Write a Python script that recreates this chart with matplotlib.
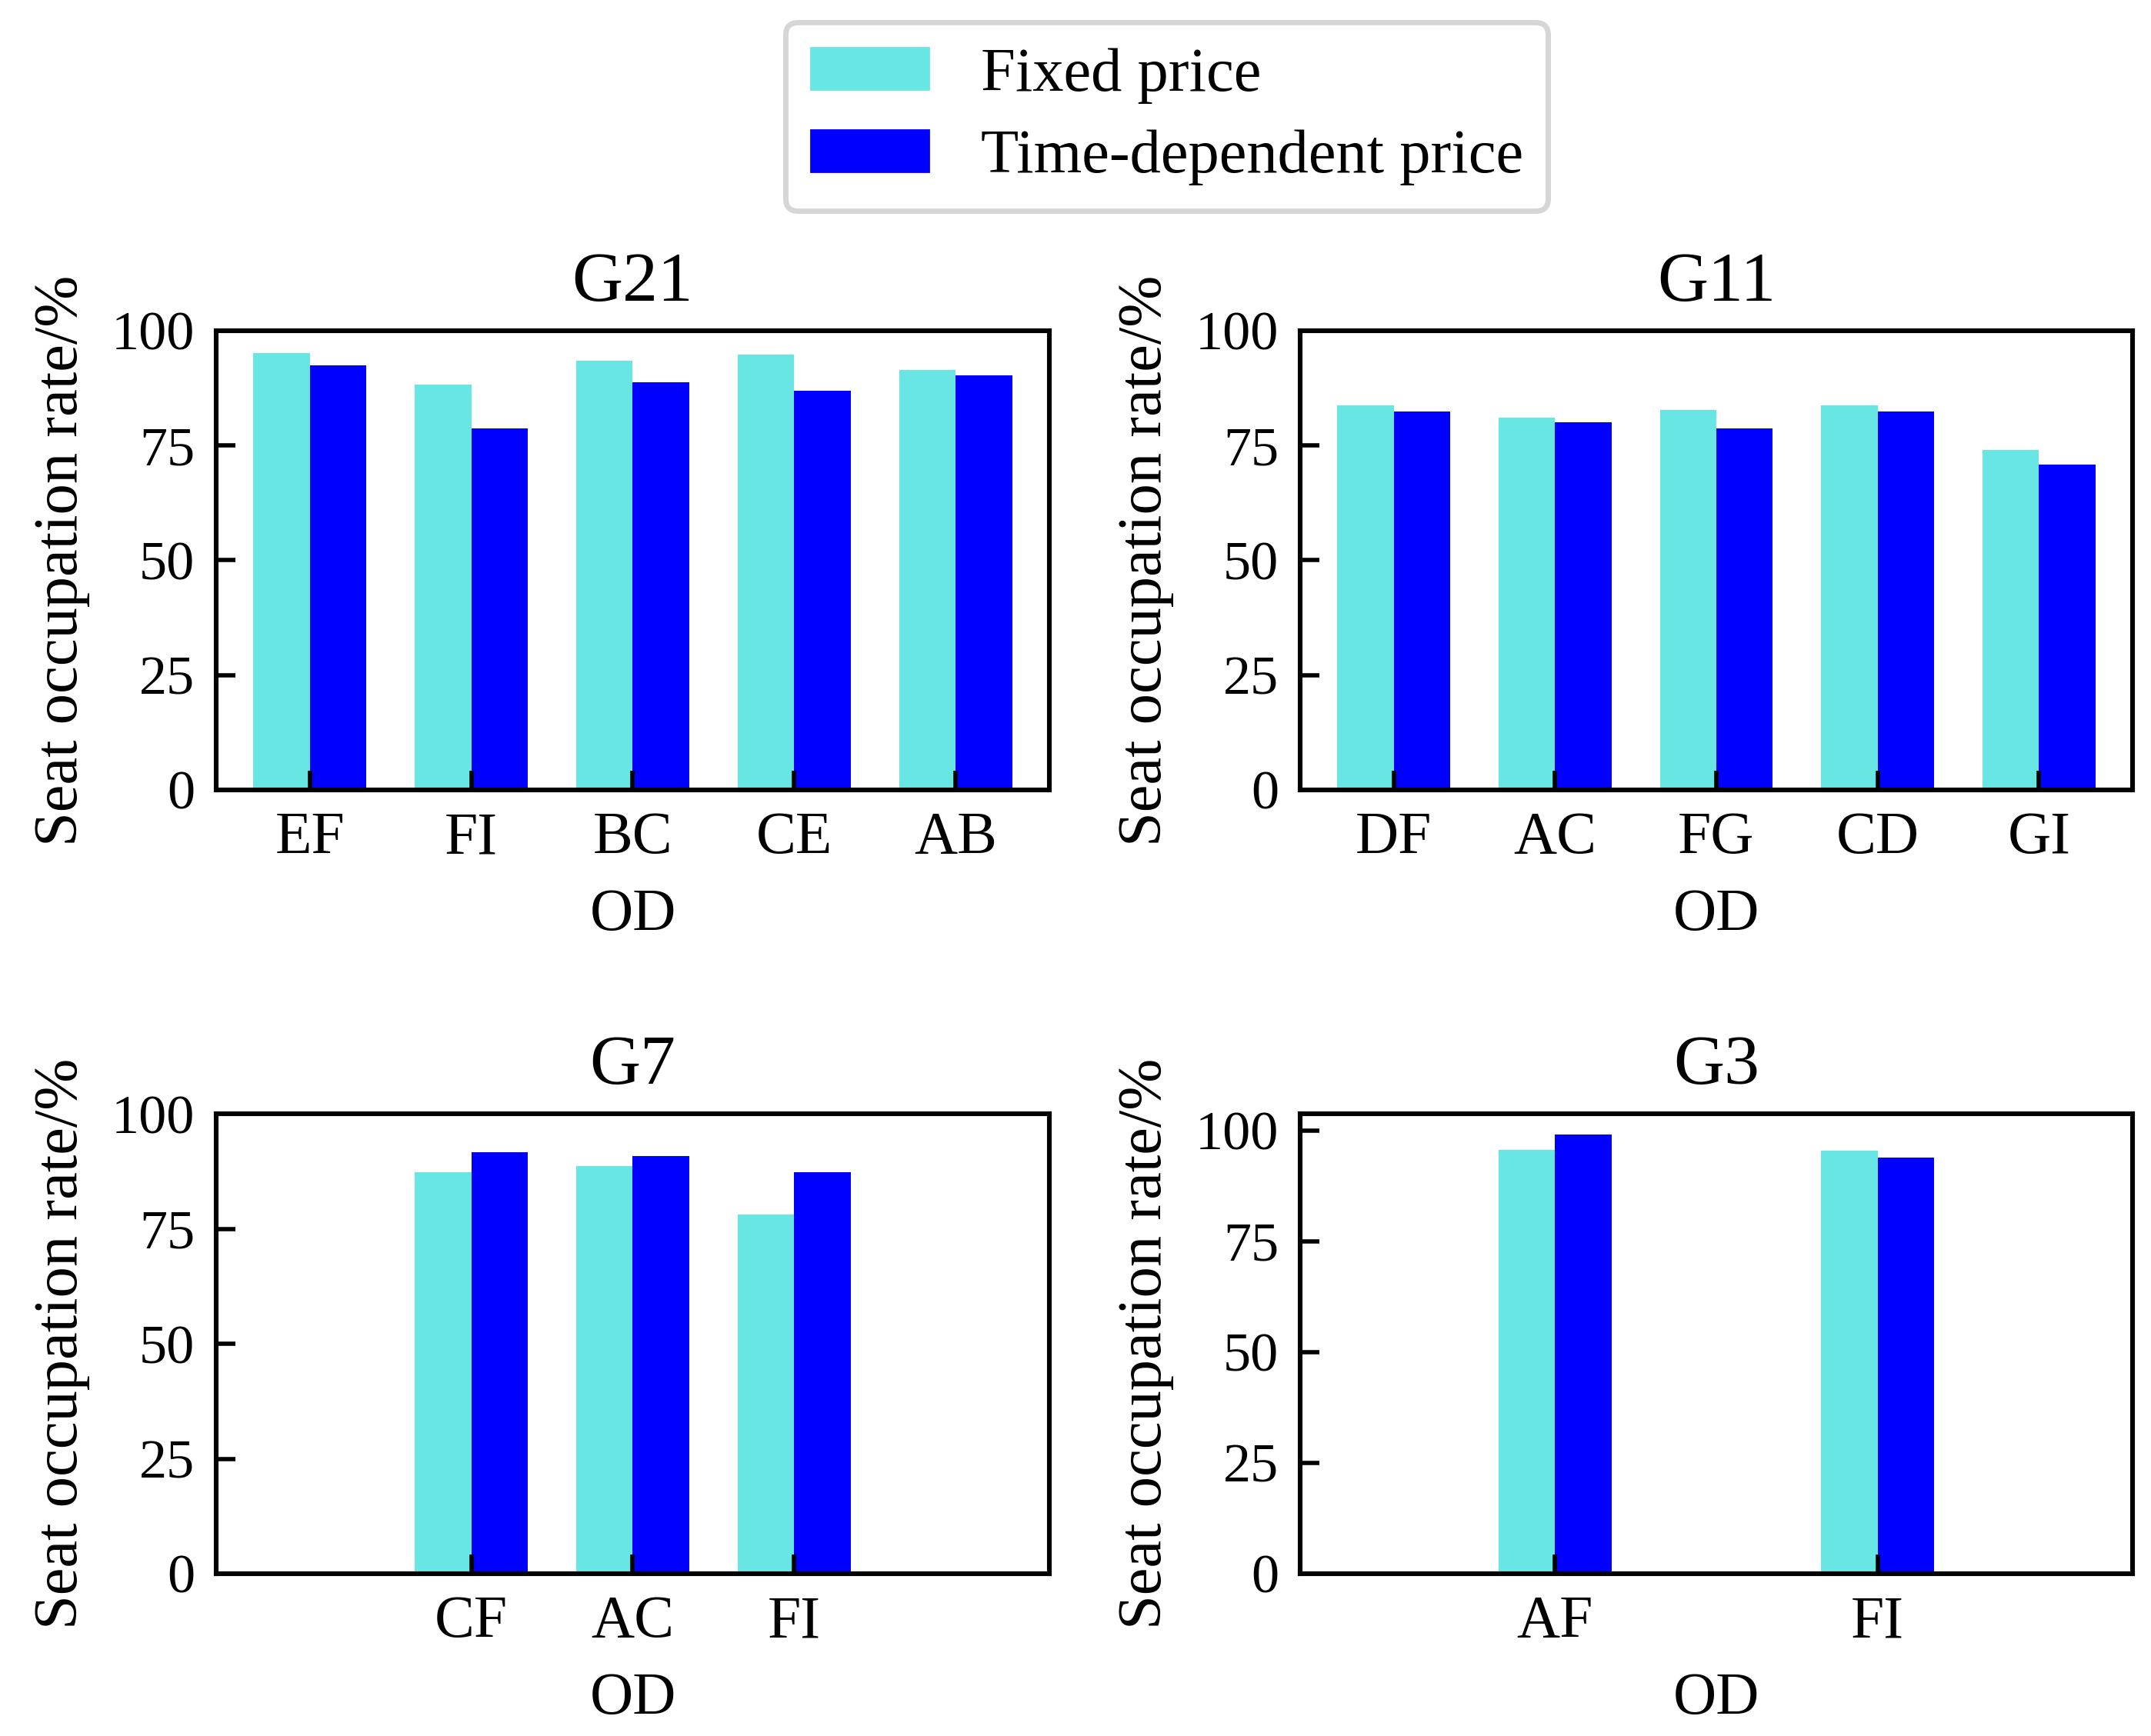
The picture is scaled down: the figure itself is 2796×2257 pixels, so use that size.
import matplotlib
matplotlib.use("Agg")
import matplotlib.pyplot as plt
from matplotlib.patches import Patch

plt.rcParams['font.family'] = ['Liberation Serif', 'DejaVu Serif']

couleur_fixe = '#68e6e4'
couleur_temps = '#0000ff'
noms_series = ["Fixed price", "Time-dependent price"]

# G21
od_g21 = ["EF", "FI", "BC", "CE", "AB"]
fixe_g21 = [95.2, 88.3, 93.4, 94.8, 91.5]
temps_g21 = [92.4, 78.7, 88.8, 87.0, 90.2]

# G11
od_g11 = ["DF", "AC", "FG", "CD", "GI"]
fixe_g11 = [83.7, 81.0, 82.8, 83.7, 74.0]
temps_g11 = [82.4, 80.1, 78.7, 82.4, 70.9]

# G7
od_g7 = ["CF", "AC", "FI"]
fixe_g7 = [87.3, 88.6, 78.1]
temps_g7 = [91.7, 90.8, 87.3]

# G3
od_g3 = ["AF", "FI"]
fixe_g3 = [95.6, 95.4]
temps_g3 = [99.1, 93.9]


def tracer(ax, titre, positions, od, fixe, temps, ymax):
    largeur = 0.35
    ax.bar([p - largeur / 2 for p in positions], fixe, largeur, color=couleur_fixe)
    ax.bar([p + largeur / 2 for p in positions], temps, largeur, color=couleur_temps)
    ax.set_xlim(-0.58, 4.58)
    ax.set_ylim(0, ymax)
    ax.set_xticks(positions)
    ax.set_xticklabels(od)
    ax.set_yticks([0, 25, 50, 75, 100])
    ax.tick_params(direction='in', length=9, width=2.0, pad=10)
    ax.tick_params(axis='x', labelsize=28)
    ax.tick_params(axis='y', labelsize=26)
    for s in ax.spines.values():
        s.set_linewidth(2.2)
    ax.set_title(titre, fontsize=33, pad=14)
    ax.set_xlabel("OD", fontsize=28, labelpad=10)
    ax.set_ylabel("Seat occupation rate/%", fontsize=29, labelpad=10)


def main():
    fig = plt.figure(figsize=(13.98, 11.285), dpi=200)
    ax1 = fig.add_axes([0.1005, 0.545, 0.3873, 0.2645])
    ax2 = fig.add_axes([0.6044, 0.545, 0.387, 0.2645])
    ax3 = fig.add_axes([0.1005, 0.0935, 0.3873, 0.2649])
    ax4 = fig.add_axes([0.6044, 0.0935, 0.387, 0.2649])

    tracer(ax1, "G21", [0, 1, 2, 3, 4], od_g21, fixe_g21, temps_g21, 100)
    tracer(ax2, "G11", [0, 1, 2, 3, 4], od_g11, fixe_g11, temps_g11, 100)
    tracer(ax3, "G7", [1, 2, 3], od_g7, fixe_g7, temps_g7, 100)
    tracer(ax4, "G3", [1, 3], od_g3, fixe_g3, temps_g3, 103.8)

    poignees = [Patch(color=couleur_fixe), Patch(color=couleur_temps)]
    leg = fig.legend(poignees, noms_series, loc='upper center', bbox_to_anchor=(0.5425, 0.987),
                     borderaxespad=0, fontsize=29, handlelength=1.9, handleheight=0.65,
                     labelspacing=0.42, handletextpad=0.85, borderpad=0.4, fancybox=True,
                     edgecolor='#cccccc')
    leg.get_frame().set_linewidth(2.5)

    fig.savefig("out.png", dpi=200)


if __name__ == "__main__":
    main()
